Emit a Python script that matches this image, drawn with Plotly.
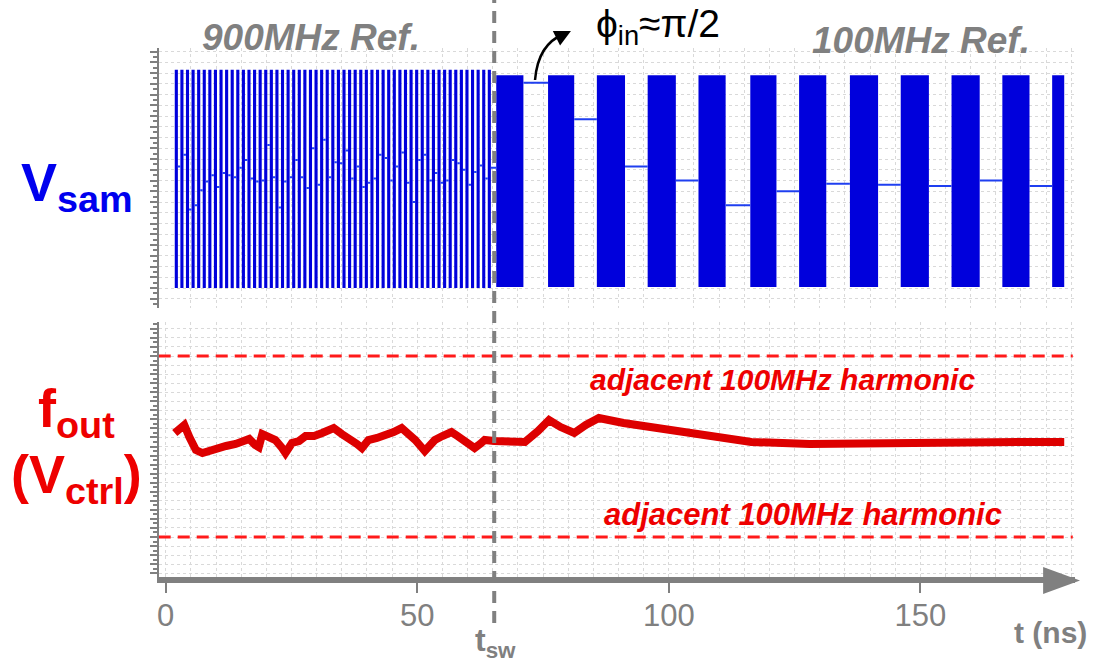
import plotly.graph_objects as go

W, H = 1098, 663
def px(x): return x / W
def py(y): return 1 - y / H

FONT = "Arial, 'Liberation Sans', sans-serif"
BLUE = "#0000dc"
HOLD_BLUE = "#1f3ff0"
RED = "#dd0000"
DASH_RED = "#ff1a1a"
GRAY = "#808080"
GRID = "#d9d9d9"

# ---------------- data ----------------
T_SW = 65.3                      # switch time (ns)
T_REF_900 = 1.111                # 900 MHz reference period (ns)
T0_900 = 1.8                     # first sampling pulse (ns)
PULSE_W_900 = 0.62               # sampling pulse width (ns)
ENV_900 = (-1.0, 1.03)           # envelope of sampled swing
# held sample value after each 900 MHz pulse (normalised V)
hold_900 = [0.13, 0.24, -0.27, -0.23, -0.09, -0.01, 0.05, -0.06, 0.07, 0.05,
            0.03, 0.12, 0.19, 0.02, -0.01, 0.00, 0.33, 0.03, -0.25, -0.01,
            0.03, 0.19, 0.03, -0.07, 0.30, -0.04, 0.38, 0.03, 0.17, 0.16,
            0.28, 0.02, 0.13, -0.06, -0.02, 0.02, 0.24, 0.21, 0.00, 0.13,
            0.26, -0.02, -0.20, 0.19, 0.24, 0.00, 0.07, -0.02, 0.00, 0.19,
            0.16, 0.10, -0.04, 0.08, 0.14, 0.02, 0.12]

# 100 MHz reference section: sampling windows (ns) and held values
bar_start_100 = [65.7, 76.0, 85.7, 95.8, 105.9, 116.2, 125.9, 136.0, 146.1, 156.2, 166.3, 176.2]
bar_end_100 = [71.1, 81.2, 91.3, 101.4, 111.3, 121.4, 131.3, 141.6, 151.7, 161.8, 171.7, 178.6]
hold_100 = [0.91, 0.57, 0.13, 0.00, -0.23, -0.10, -0.03, -0.04, -0.05, 0.00, -0.05]
ENV_100 = (-0.99, 0.98)

# f_out (Vctrl) deviation from target, MHz
t_f = [1.8, 2.5, 3.7, 4.7, 6.0, 7.3, 9.0, 10.6, 12.0, 13.9, 15.5, 16.6, 17.8, 18.5,
       19.2, 20.5, 21.8, 23.0, 23.8, 25.1, 26.5, 27.8, 29.5, 31.1, 32.4, 33.4, 35.0,
       36.4, 38.0, 39.0, 40.3, 42.0, 43.6, 45.3, 46.9, 48.5, 49.6, 51.5, 52.5, 53.5,
       55.0, 56.8, 58.0, 59.5, 61.4, 62.5, 63.4, 65.3, 68.0, 71.4, 74.0, 76.2, 78.5,
       81.2, 83.5, 86.1, 91.0, 97.2, 104.0, 110.3, 116.4, 128.0, 139.6, 150.0, 160.0,
       170.0, 178.6]
f_dev = [14.9, 18.2, 23.8, 10.5, -3.9, -7.2, -3.9, -2.8, 0.6, 2.8, 6.1, 8.3, 1.7, -0.6,
         13.8, 9.4, 7.2, -0.6, -7.2, 3.9, 6.1, 11.6, 11.6, 14.9, 17.1, 20.4, 13.8,
         9.4, 2.8, -1.7, 7.2, 9.4, 11.6, 16.0, 20.4, 13.8, 7.2, -5.0, 0.6, 7.2,
         11.6, 16.0, 11.6, 6.1, -1.7, 2.8, 7.2, 6.1, 5.0, 5.0, 17.1, 29.3, 21.5,
         14.9, 23.8, 31.5, 26.0, 20.4, 16.0, 10.5, 5.0, 2.8, 3.9, 3.9, 5.0,
         5.0, 5.0]
HARMONICS = [100.0, -100.0]      # adjacent 100 MHz harmonics (MHz offset)
HARM_X = [-1.39, 180.3]

X_RANGE = [-1.39, 180.75]
X_TICKS = [0, 50, 100, 150]

# ---------------- build marks ----------------
starts_900 = [T0_900 + i * T_REF_900 for i in range(len(hold_900))]
ends_900 = [s + PULSE_W_900 for s in starts_900]
next_900 = starts_900[1:] + [bar_start_100[0]]

fig = go.Figure()

# 900 MHz sampling pulses
fig.add_trace(go.Bar(
    x=[(s + e) / 2 for s, e in zip(starts_900, ends_900)],
    y=[ENV_900[1] - ENV_900[0]] * len(starts_900),
    base=[ENV_900[0]] * len(starts_900),
    width=[e - s for s, e in zip(starts_900, ends_900)],
    marker=dict(color=BLUE, line=dict(width=0)),
    xaxis="x", yaxis="y", showlegend=False, hoverinfo="skip"))

# 100 MHz sampling windows
fig.add_trace(go.Bar(
    x=[(s + e) / 2 for s, e in zip(bar_start_100, bar_end_100)],
    y=[ENV_100[1] - ENV_100[0]] * len(bar_start_100),
    base=[ENV_100[0]] * len(bar_start_100),
    width=[e - s for s, e in zip(bar_start_100, bar_end_100)],
    marker=dict(color=BLUE, line=dict(width=0)),
    xaxis="x", yaxis="y", showlegend=False, hoverinfo="skip"))

# hold segments
hx, hy = [], []
for e, n, v in zip(ends_900, next_900, hold_900):
    hx += [e, n, None]
    hy += [v, v, None]
for e, n, v in zip(bar_end_100[:-1], bar_start_100[1:], hold_100):
    hx += [e, n, None]
    hy += [v, v, None]
fig.add_trace(go.Scatter(x=hx, y=hy, mode="lines", line=dict(color=HOLD_BLUE, width=2),
                         xaxis="x", yaxis="y", showlegend=False, hoverinfo="skip"))

# harmonic lines
for h in HARMONICS:
    fig.add_trace(go.Scatter(x=HARM_X, y=[h, h], mode="lines",
                             line=dict(color=DASH_RED, width=3, dash="12px,7px"),
                             xaxis="x2", yaxis="y2", showlegend=False, hoverinfo="skip"))

# f_out trace
fig.add_trace(go.Scatter(x=t_f, y=f_dev, mode="lines", line=dict(color=RED, width=8),
                         xaxis="x2", yaxis="y2", showlegend=False, hoverinfo="skip"))

# ---------------- layout ----------------
xgrid_minor = dict(dtick=5, tick0=0, showgrid=True, gridcolor=GRID, griddash="dot", gridwidth=1)
fig.update_layout(
    width=W, height=H, autosize=False,
    margin=dict(l=0, r=0, t=0, b=0),
    paper_bgcolor="white", plot_bgcolor="white",
    barmode="overlay",
    font=dict(family=FONT),
    xaxis=dict(domain=[px(157), px(1075)], range=X_RANGE, anchor="y",
               showline=False, showticklabels=False, ticks="", zeroline=False,
               showgrid=False, tick0=0, dtick=50, minor=xgrid_minor),
    xaxis2=dict(domain=[px(157), px(1075)], range=X_RANGE, anchor="y2", matches="x",
                showline=True, linecolor=GRAY, linewidth=6,
                ticks="outside", ticklen=10, tickwidth=2, tickcolor=GRAY,
                tickmode="array", tickvals=X_TICKS, ticklabelstandoff=-4,
                tickfont=dict(size=31, color=GRAY, family=FONT),
                zeroline=False, showgrid=False, minor=xgrid_minor),
    yaxis=dict(domain=[py(308), py(48)], range=[-1.186, 1.233], anchor="x",
               showline=True, linecolor=GRAY, linewidth=2,
               ticks="outside", ticklen=7, tickwidth=1.5, tickcolor=GRAY,
               tick0=0, dtick=0.1, showticklabels=False,
               showgrid=True, gridcolor=GRID, griddash="dot", zeroline=False,
               minor=dict(dtick=0.05, tick0=0, ticks="outside", ticklen=4,
                          tickcolor=GRAY, showgrid=False)),
    yaxis2=dict(domain=[py(577), py(322)], range=[-144.2, 137.6], anchor="x2",
                showline=True, linecolor=GRAY, linewidth=2,
                ticks="outside", ticklen=7, tickwidth=1.5, tickcolor=GRAY,
                tick0=0, dtick=10, showticklabels=False,
                showgrid=True, gridcolor=GRID, griddash="dot", zeroline=False,
                minor=dict(dtick=5, tick0=0, ticks="outside", ticklen=4,
                           tickcolor=GRAY, showgrid=False)),
)

# t_sw dashed vertical line
fig.add_shape(type="line", xref="x", yref="paper", x0=T_SW, x1=T_SW,
              y0=py(623), y1=1.0, line=dict(color=GRAY, width=4, dash="12px,8px"))

# x-axis arrowhead
fig.add_shape(type="path", xref="paper", yref="paper",
              path=f"M {px(1043)},{py(567)} L {px(1080)},{py(580.5)} L {px(1043)},{py(594)} Z",
              fillcolor=GRAY, line=dict(width=0))

# curved arrow towards phi label
fig.add_shape(type="path", xref="paper", yref="paper",
              path=f"M {px(534)},{py(80)} Q {px(537)},{py(44)} {px(563)},{py(34)}",
              line=dict(color="black", width=2.5))
fig.add_annotation(x=px(570), y=py(31), xref="paper", yref="paper", text="",
                   showarrow=True, ax=-10, ay=5, arrowhead=2, arrowsize=1.3,
                   arrowwidth=2.5, arrowcolor="black")

def label(x, y, text, size, color, bold=True, italic=False):
    fig.add_annotation(x=px(x), y=py(y), xref="paper", yref="paper", text=text,
                       showarrow=False, xanchor="center", yanchor="middle",
                       font=dict(family=FONT, size=size, color=color,
                                 weight="bold" if bold else "normal",
                                 style="italic" if italic else "normal"))

label(310, 37, "900MHz Ref.", 37, GRAY, italic=True)
label(921, 40, "100MHz Ref.", 37, GRAY, italic=True)
label(657, 27, "ϕ<sub>in</sub>≈π/2", 39, "black", bold=False)
label(75, 186, "V<sub>sam</sub>", 54, "#0000ee")
label(75, 412, "f<sub>out</sub>", 54, "#ee0000")
label(75, 478, "(V<sub>ctrl</sub>)", 54, "#ee0000")
label(782, 379, "adjacent 100MHz harmonic", 30, "#ee0000", italic=True)
label(802, 514, "adjacent 100MHz harmonic", 31, "#ee0000", italic=True)
label(1050, 632, "t (ns)", 30, GRAY)
label(494, 642, "t<sub>sw</sub>", 32, GRAY)

fig.write_html("out.html")
